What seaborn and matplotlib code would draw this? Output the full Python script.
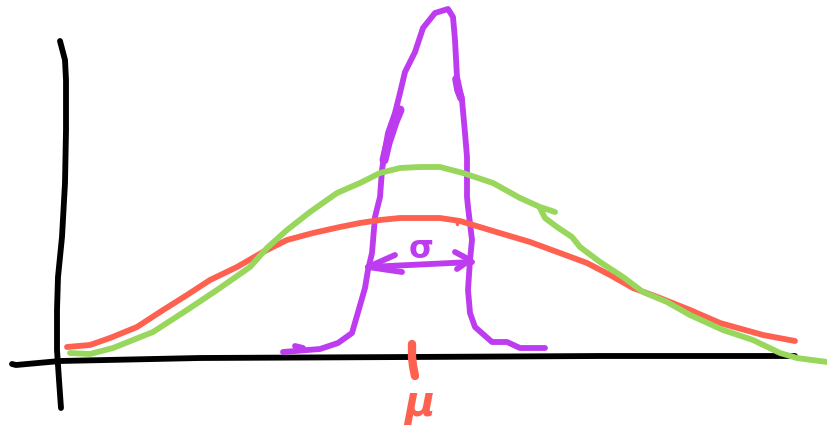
import matplotlib
matplotlib.use("Agg")
import matplotlib.pyplot as plt
import seaborn as sns

BLACK = "#000000"
RED = "#FF6150"
GREEN = "#98D65C"
PURPLE = "#BE3CF0"

y_axis_x = [60, 65, 66, 66, 65, 62, 58, 57, 57, 59, 61]
y_axis_y = [41, 60, 80, 130, 183, 237, 277, 310, 350, 380, 408]
x_axis_x = [12, 16, 60, 200, 410, 600, 795]
x_axis_y = [364, 365, 361, 358, 357, 356, 356]

red_x = [67, 90, 110, 137, 160, 187, 210, 237, 263, 287, 313, 340, 360, 380, 400, 420, 440, 460, 493, 530, 560, 587, 610, 633, 660, 690, 720, 763, 795]
red_y = [347, 345, 338, 327, 312, 295, 280, 267, 252, 240, 233, 227, 223, 220, 218, 218, 218, 221, 231, 242, 253, 263, 275, 288, 298, 310, 323, 335, 341]

green_a_x = [70, 90, 113, 153, 187, 217, 250, 267, 287, 310, 337, 360, 380, 400, 420, 440, 463, 493, 520, 540, 555]
green_a_y = [353, 354, 348, 332, 310, 290, 267, 248, 230, 212, 193, 183, 173, 168, 167, 167, 173, 183, 198, 207, 212]
green_b_x = [540, 545, 557, 572, 580, 600, 623, 643, 667, 690, 723, 753, 780, 797, 827]
green_b_y = [208, 218, 227, 237, 247, 262, 277, 292, 302, 315, 330, 340, 353, 358, 362]

purple_x = [283, 320, 338, 352, 365, 368, 372, 375, 380, 382, 385, 388, 395, 400, 405, 415, 423, 435, 448, 453, 455, 457, 462, 465, 467, 467, 468, 472, 470, 468, 470, 475, 492, 507, 520, 545]
purple_y = [352, 349, 343, 333, 288, 270, 253, 217, 197, 170, 150, 133, 113, 93, 72, 52, 28, 13, 9, 17, 40, 77, 100, 133, 157, 197, 207, 240, 260, 290, 313, 327, 342, 342, 348, 348]
small_hook_x = [295, 303]
small_hook_y = [346, 348]
blob_left_x = [400, 395, 388, 384]
blob_left_y = [110, 122, 143, 160]
blob_right_x = [456, 458, 461]
blob_right_y = [79, 90, 98]
arrow_x = [368, 472]
arrow_y = [267, 262]
head_left_x = [395, 368, 402]
head_left_y = [255, 267, 272]
head_right_x = [455, 470, 457]
head_right_y = [252, 260, 269]

tick_x = [412, 412, 413, 415]
tick_y = [344, 357, 366, 376]
red_nick_x = [457, 457]
red_nick_y = [220, 224]

sns.set_theme(style="white")
fig, ax = plt.subplots(figsize=(8.28, 4.26), dpi=100)
ax.set_position([0, 0, 1, 1])
ax.set_axis_off()


def stroke(xs, ys, color, lw=4.2):
    sns.lineplot(x=xs, y=ys, sort=False, estimator=None, color=color, linewidth=lw,
                 solid_capstyle="round", solid_joinstyle="round", ax=ax)


stroke(y_axis_x, y_axis_y, BLACK)
stroke(x_axis_x, x_axis_y, BLACK)
stroke(purple_x, purple_y, PURPLE)
stroke(small_hook_x, small_hook_y, PURPLE)
stroke(blob_left_x, blob_left_y, PURPLE, 6.5)
stroke(blob_right_x, blob_right_y, PURPLE, 5.5)
stroke(arrow_x, arrow_y, PURPLE)
stroke(head_left_x, head_left_y, PURPLE)
stroke(head_right_x, head_right_y, PURPLE)
stroke(red_x, red_y, RED)
stroke(red_nick_x, red_nick_y, RED, 2.5)
stroke(green_a_x, green_a_y, GREEN)
stroke(green_b_x, green_b_y, GREEN)
stroke(tick_x, tick_y, RED, 6)

ax.text(421, 249, "σ", color=PURPLE, fontsize=23, fontweight="bold", ha="center", va="center")
ax.text(419, 404, "μ", color=RED, fontsize=30, fontweight="bold", fontstyle="italic", ha="center", va="center")

ax.set_xlim(0, 828)
ax.set_ylim(426, 0)
fig.savefig("out.png", dpi=100)
